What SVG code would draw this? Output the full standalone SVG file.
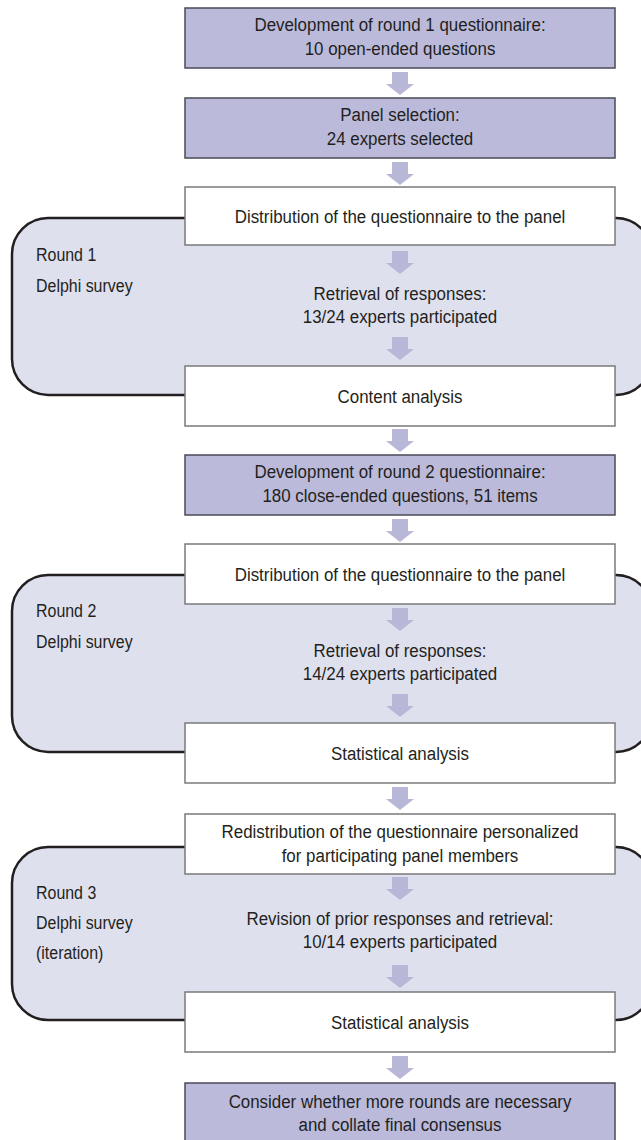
<svg xmlns="http://www.w3.org/2000/svg" xmlns:xlink="http://www.w3.org/1999/xlink" width="641" height="1140" viewBox="0 0 641 1140">
<style>
.bg{fill:#ffffff}
.round{fill:#dfe0ee;stroke:#231f20;stroke-width:2.5}
.pbox{fill:#bbbadb;stroke:#4a4a58;stroke-width:1.5}
.wbox{fill:#ffffff;stroke:#7a7a7a;stroke-width:1.5}
.arrow{fill:#b8b7d8}
text{font-family:"Liberation Sans",Arial,sans-serif;font-size:19px;fill:#231f20}
.c{text-anchor:middle}
</style>
<defs>
<path id="arr" d="M-8 0 h16 v12 h6 l-14 11 l-14 -11 h6 z"/>
</defs>
<rect class="bg" x="0" y="0" width="641" height="1140"/>

<g id="round1">
<rect class="round" x="12" y="218" width="640" height="177" rx="36" ry="36"/>
<g transform="translate(36 0) scale(0.84 1)"><text x="0" y="261">Round 1</text><text x="0" y="292">Delphi survey</text></g>
</g>
<g id="round2">
<rect class="round" x="12" y="575" width="640" height="177" rx="36" ry="36"/>
<g transform="translate(36 0) scale(0.84 1)"><text x="0" y="617">Round 2</text><text x="0" y="648">Delphi survey</text></g>
</g>
<g id="round3">
<rect class="round" x="12" y="847" width="640" height="173" rx="36" ry="36"/>
<g transform="translate(36 0) scale(0.84 1)"><text x="0" y="899">Round 3</text><text x="0" y="929.5">Delphi survey</text><text x="0" y="959">(iteration)</text></g>
</g>

<g id="connectors" class="arrow">
<use xlink:href="#arr" x="400" y="72"/>
<use xlink:href="#arr" x="400" y="162"/>
<use xlink:href="#arr" x="400" y="251"/>
<use xlink:href="#arr" x="400" y="337"/>
<use xlink:href="#arr" x="400" y="429"/>
<use xlink:href="#arr" x="400" y="519"/>
<use xlink:href="#arr" x="400" y="608"/>
<use xlink:href="#arr" x="400" y="694"/>
<use xlink:href="#arr" x="400" y="787"/>
<use xlink:href="#arr" x="400" y="877"/>
<use xlink:href="#arr" x="400" y="965"/>
<use xlink:href="#arr" x="400" y="1056"/>
</g>

<g id="dev1">
<rect class="pbox" x="185" y="8" width="430" height="60"/>
<g transform="translate(400 0) scale(0.89 1)"><text class="c" x="0" y="31.5">Development of round 1 questionnaire:</text><text class="c" x="0" y="55.5">10 open-ended questions</text></g>
</g>
<g id="panel">
<rect class="pbox" x="185" y="98" width="430" height="60"/>
<g transform="translate(400 0) scale(0.89 1)"><text class="c" x="0" y="121.5">Panel selection:</text><text class="c" x="0" y="145.5">24 experts selected</text></g>
</g>
<g id="dist1">
<rect class="wbox" x="185" y="187" width="430" height="58"/>
<g transform="translate(400 0) scale(0.89 1)"><text class="c" x="0" y="223">Distribution of the questionnaire to the panel</text></g>
</g>
<g id="retr1">
<g transform="translate(400 0) scale(0.89 1)"><text class="c" x="0" y="300">Retrieval of responses:</text><text class="c" x="0" y="323.5">13/24 experts participated</text></g>
</g>
<g id="content">
<rect class="wbox" x="185" y="366" width="430" height="60"/>
<g transform="translate(400 0) scale(0.89 1)"><text class="c" x="0" y="403">Content analysis</text></g>
</g>
<g id="dev2">
<rect class="pbox" x="185" y="455" width="430" height="60"/>
<g transform="translate(400 0) scale(0.89 1)"><text class="c" x="0" y="478.5">Development of round 2 questionnaire:</text><text class="c" x="0" y="502.5">180 close-ended questions, 51 items</text></g>
</g>
<g id="dist2">
<rect class="wbox" x="185" y="544" width="430" height="60"/>
<g transform="translate(400 0) scale(0.89 1)"><text class="c" x="0" y="581">Distribution of the questionnaire to the panel</text></g>
</g>
<g id="retr2">
<g transform="translate(400 0) scale(0.89 1)"><text class="c" x="0" y="657">Retrieval of responses:</text><text class="c" x="0" y="680.5">14/24 experts participated</text></g>
</g>
<g id="stat1">
<rect class="wbox" x="185" y="723" width="430" height="60"/>
<g transform="translate(400 0) scale(0.89 1)"><text class="c" x="0" y="760">Statistical analysis</text></g>
</g>
<g id="redist">
<rect class="wbox" x="185" y="814" width="430" height="60"/>
<g transform="translate(400 0) scale(0.89 1)"><text class="c" x="0" y="838.5">Redistribution of the questionnaire personalized</text><text class="c" x="0" y="862">for participating panel members</text></g>
</g>
<g id="revision">
<g transform="translate(400 0) scale(0.89 1)"><text class="c" x="0" y="925">Revision of prior responses and retrieval:</text><text class="c" x="0" y="948.5">10/14 experts participated</text></g>
</g>
<g id="stat2">
<rect class="wbox" x="185" y="992" width="430" height="60"/>
<g transform="translate(400 0) scale(0.89 1)"><text class="c" x="0" y="1029">Statistical analysis</text></g>
</g>
<g id="final">
<rect class="pbox" x="185" y="1083" width="430" height="62"/>
<g transform="translate(400 0) scale(0.89 1)"><text class="c" x="0" y="1108">Consider whether more rounds are necessary</text><text class="c" x="0" y="1131">and collate final consensus</text></g>
</g>
</svg>
